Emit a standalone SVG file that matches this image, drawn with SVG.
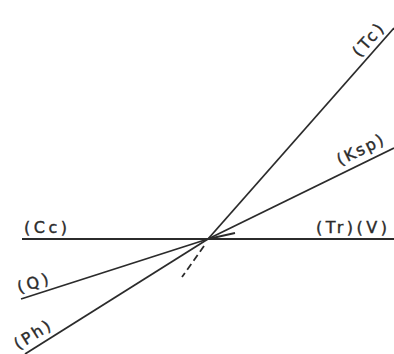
<svg xmlns="http://www.w3.org/2000/svg" width="394" height="354" viewBox="0 0 394 354">
<style>
  .ln { stroke: #2b2b2b; stroke-width: 1.8; fill: none; stroke-linecap: butt; }
  .dash { stroke-dasharray: 7 4; }
  .lbl { font-family: "DejaVu Sans", "Liberation Sans", sans-serif; font-size: 16px; fill: #2b2b2b; stroke: #2b2b2b; stroke-width: 0.4; }
</style>
<rect width="394" height="354" fill="#ffffff"/>
<g id="connectors">
  <line class="ln" x1="22" y1="239" x2="394" y2="239"/>
  <line class="ln" x1="208" y1="239" x2="394" y2="28"/>
  <line class="ln" x1="208" y1="239" x2="394" y2="148"/>
  <line class="ln" x1="21" y1="299" x2="208" y2="239"/>
  <line class="ln" x1="25" y1="354" x2="208" y2="239"/>
  <line class="ln dash" x1="204" y1="246" x2="182" y2="277"/>
  <line class="ln" x1="208" y1="239" x2="235" y2="233"/>
</g>
<g id="node-Cc">
  <text class="lbl" x="24" y="233" textLength="43" lengthAdjust="spacing">(Cc)</text>
</g>
<g id="node-TrV">
  <text class="lbl" x="316" y="233" textLength="71" lengthAdjust="spacing">(Tr)(V)</text>
</g>
<g id="node-Tc">
  <text class="lbl" transform="translate(364,62) rotate(-48.6)" x="0" y="-6" textLength="38" lengthAdjust="spacing">(Tc)</text>
</g>
<g id="node-Ksp">
  <text class="lbl" transform="translate(343,172) rotate(-26)" x="0" y="-7" textLength="50" lengthAdjust="spacing">(Ksp)</text>
</g>
<g id="node-Q">
  <text class="lbl" transform="translate(21,299) rotate(-17.8)" x="0" y="-6" textLength="32" lengthAdjust="spacing">(Q)</text>
</g>
<g id="node-Ph">
  <text class="lbl" transform="translate(22,356) rotate(-32.1)" x="0" y="-7" textLength="40" lengthAdjust="spacing">(Ph)</text>
</g>
</svg>
